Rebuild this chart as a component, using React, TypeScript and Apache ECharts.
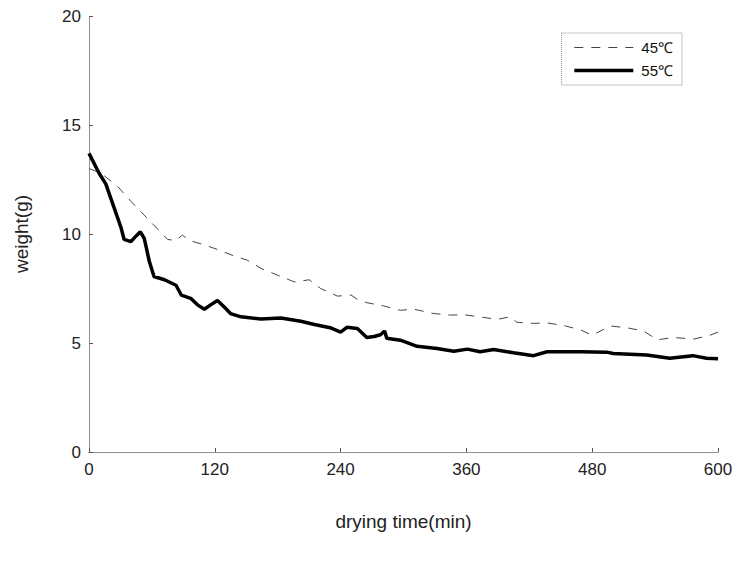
import React, { useEffect, useRef } from "react";
import * as echarts from "echarts";

const xTicks = [0, 120, 240, 360, 480, 600];
const yTicks = [0, 5, 10, 15, 20];

const time45 = [0, 11, 27, 40, 50, 62, 75, 83, 89, 96, 110, 122, 138, 151, 165, 183, 196, 210, 221, 237, 250, 256, 265, 281, 297, 310, 329, 345, 357, 373, 389, 402, 408, 424, 437, 453, 469, 480, 497, 513, 529, 542, 558, 577, 592, 600];
const weight45 = [13.0, 12.8, 12.2, 11.5, 11.0, 10.4, 9.75, 9.7, 9.95, 9.7, 9.5, 9.3, 9.0, 8.8, 8.4, 8.05, 7.8, 7.9, 7.5, 7.15, 7.2, 7.0, 6.85, 6.7, 6.5, 6.55, 6.35, 6.28, 6.3, 6.2, 6.08, 6.2, 5.95, 5.9, 5.92, 5.8, 5.6, 5.35, 5.78, 5.7, 5.55, 5.15, 5.25, 5.18, 5.35, 5.5];

const time55 = [0, 9.5, 16, 24, 30.5, 33.5, 40, 44.7, 49, 52.7, 57.5, 62, 72, 83, 88, 97, 103.5, 110, 116, 122.5, 129, 135, 145, 164, 183, 202, 215, 230, 240, 246, 256, 265, 272, 278, 282, 284, 297, 313, 332, 348, 361, 373, 386, 405, 424, 437, 469, 494, 500, 532, 554, 576, 589, 600];
const weight55 = [13.7, 12.8, 12.3, 11.2, 10.3, 9.75, 9.65, 9.9, 10.1, 9.8, 8.75, 8.05, 7.9, 7.65, 7.2, 7.05, 6.75, 6.55, 6.75, 6.95, 6.65, 6.35, 6.2, 6.1, 6.15, 6.0, 5.85, 5.7, 5.5, 5.72, 5.67, 5.25, 5.3, 5.38, 5.55, 5.22, 5.13, 4.85, 4.75, 4.62, 4.72, 4.6, 4.7, 4.55, 4.42, 4.6, 4.6, 4.58, 4.52, 4.45, 4.3, 4.42, 4.3, 4.28];

const seriesNames = ["45℃", "55℃"];

const zip = (xs: number[], ys: number[]) => xs.map((x, i) => [x, ys[i]]);

const FONT = "'Liberation Sans', Arial, sans-serif";
const frameLine = { show: true, lineStyle: { color: "#8a8a8a", width: 1, type: "dotted" as const } };

export default function App() {
  const ref = useRef<HTMLDivElement>(null);
  useEffect(() => {
    if (!ref.current) return;
    const chart = echarts.init(ref.current, null, { renderer: "svg" });
    chart.setOption({
      animation: false,
      backgroundColor: "#ffffff",
      grid: { left: 89, right: 19, top: 16, bottom: 112 },
      legend: {
        orient: "vertical",
        right: 55,
        top: 33,
        align: "left",
        itemWidth: 59,
        itemHeight: 12,
        itemGap: 8,
        padding: [7, 9, 7, 11],
        borderColor: "#8a8a8a",
        borderWidth: 1,
        borderType: "dotted",
        itemStyle: { opacity: 0 },
        textStyle: { fontFamily: FONT, fontSize: 15, color: "#111", padding: [0, 0, 0, 3] },
        data: [
          { name: seriesNames[0], lineStyle: { width: 1, color: "#444", type: [9, 8] } },
          { name: seriesNames[1], lineStyle: { width: 3.5, color: "#000" } },
        ],
      },
      xAxis: [
        {
          type: "value",
          min: 0,
          max: 600,
          interval: 120,
          position: "bottom",
          axisLine: frameLine,
          axisTick: { show: true, inside: true, length: 4, lineStyle: { color: "#555" } },
          splitLine: { show: false },
          axisLabel: { fontFamily: FONT, fontSize: 17, color: "#222", margin: 9,
            formatter: (v: number) => (xTicks.includes(v) ? String(v) : "") },
          name: "drying time(min)",
          nameLocation: "middle",
          nameGap: 60,
          nameTextStyle: { fontFamily: FONT, fontSize: 19, color: "#222" },
        },
        {
          type: "value",
          min: 0,
          max: 600,
          interval: 120,
          position: "top",
          axisLine: frameLine,
          axisTick: { show: false },
          axisLabel: { show: false },
          splitLine: { show: false },
        },
      ],
      yAxis: [
        {
          type: "value",
          min: 0,
          max: 20,
          interval: 5,
          position: "left",
          axisLine: frameLine,
          axisTick: { show: true, inside: true, length: 4, lineStyle: { color: "#555" } },
          splitLine: { show: false },
          axisLabel: { fontFamily: FONT, fontSize: 17, color: "#222", margin: 8,
            formatter: (v: number) => (yTicks.includes(v) ? String(v) : "") },
          name: "weight(g)",
          nameLocation: "middle",
          nameGap: 58,
          nameTextStyle: { fontFamily: FONT, fontSize: 19, color: "#222" },
        },
        {
          type: "value",
          min: 0,
          max: 20,
          interval: 5,
          position: "right",
          axisLine: frameLine,
          axisTick: { show: false },
          axisLabel: { show: false },
          splitLine: { show: false },
        },
      ],
      series: [
        {
          name: seriesNames[0],
          type: "line",
          xAxisIndex: 0,
          yAxisIndex: 0,
          showSymbol: false,
          symbol: "none",
          lineStyle: { color: "#444", width: 1, type: [9, 8] },
          itemStyle: { color: "#444" },
          data: zip(time45, weight45),
        },
        {
          name: seriesNames[1],
          type: "line",
          xAxisIndex: 0,
          yAxisIndex: 0,
          showSymbol: false,
          symbol: "none",
          lineStyle: { color: "#000", width: 3.5 },
          itemStyle: { color: "#000" },
          data: zip(time55, weight55),
        },
      ],
    });
    return () => chart.dispose();
  }, []);
  return <div ref={ref} style={{ width: 737, height: 564, position: "absolute", left: 0, top: 0 }} />;
}
